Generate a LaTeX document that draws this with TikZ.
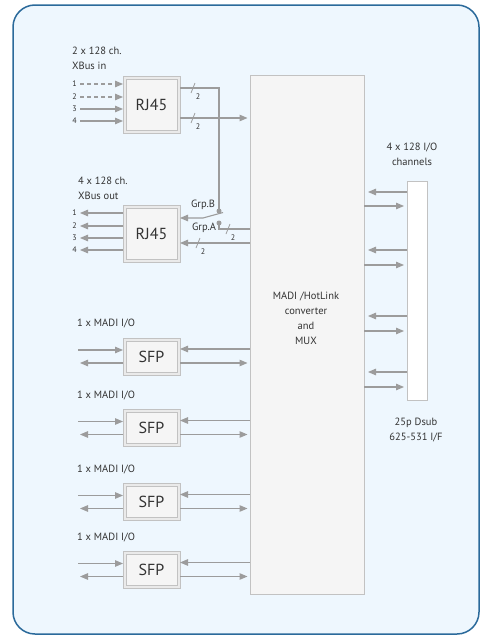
\documentclass[tikz,border=0pt]{standalone}
\usepackage{fontspec}
\setmainfont{PT Sans}
\usetikzlibrary{arrows.meta,calc}
\definecolor{bgblue}{HTML}{EEF7FE}
\definecolor{frameblue}{HTML}{2B6A9B}
\definecolor{linegray}{HTML}{9C9C9C}
\definecolor{boxgray}{HTML}{C2C2C2}
\definecolor{boxfill}{HTML}{F5F5F5}
\definecolor{rimfill}{HTML}{EAEAEA}
\definecolor{txt}{HTML}{333333}
\begin{document}
\begin{tikzpicture}[x=1pt,y=-1pt,
  conn/.style={draw=linegray, line width=1.1pt},
  arr/.style={conn, -{Triangle[length=8pt,width=6.5pt]}},
  dashedarr/.style={arr, dash pattern=on 4pt off 3pt},
  connbox/.style={draw=boxgray, fill=rimfill, line width=0.8pt, minimum width=57pt,
    inner sep=0pt, outer sep=0pt, font=\fontsize{16}{18}\selectfont, text=txt,
    path picture={\draw[draw=boxgray, fill=boxfill, line width=0.8pt]
      ([shift={(3pt,3pt)}]path picture bounding box.south west) rectangle
      ([shift={(-3pt,-3pt)}]path picture bounding box.north east);}},
  mainbox/.style={draw=boxgray, fill=boxfill, line width=1pt, inner sep=0pt, outer sep=0pt},
  dsubbox/.style={draw=boxgray, fill=white, line width=1pt, inner sep=0pt, outer sep=0pt},
  lbl/.style={font=\fontsize{10.5}{15}\selectfont, text=txt, inner sep=0pt},
  small/.style={font=\fontsize{8}{9}\selectfont, text=txt, inner sep=0pt},
  dot/.style={circle, fill=linegray, inner sep=0pt, minimum size=5pt},
  bus/.pic={\draw[draw=linegray, line width=0.8pt] (-2,5) -- (2,-5);
            \node[small] (-n) at (5,9) {2};}
]
\useasboundingbox (0,0) rectangle (481,637);
\fill[white] (0,0) rectangle (481,637);
\draw[frameblue, fill=bgblue, line width=1.5pt, rounded corners=22pt] (13,5) rectangle (479,634);

% main converter
\node[mainbox, minimum width=114pt, minimum height=519pt] (main) at (307,334.5) {};
\node[lbl, align=center] (mainlbl) at (306,318.5) {MADI /HotLink\\converter\\and\\MUX};

% Dsub
\node[dsubbox, minimum width=20pt, minimum height=219pt] (dsub) at (417,290.5) {};
\node[lbl, align=center] (iolbl) at (412,154) {4 x 128 I/O\\channels};
\node[lbl, align=center] (dsublbl) at (416,430) {25p Dsub\\625-531 I/F};
\foreach \ya/\yb [count=\i] in {192/206, 250/265, 316/331, 372/387} {
  \coordinate (da\i) at (368,\ya);
  \coordinate (db\i) at (404,\yb);
  \draw[arr] (dsub.west |- da\i) -- (da\i);
  \draw[arr] (main.east |- db\i) -- (db\i);
}

% XBus in
\node[lbl, anchor=west, align=left] (xinlbl) at (72,58) {2 x 128 ch.\\XBus in};
\node[connbox, minimum height=57pt] (rjin) at (151.5,104.5) {RJ45};
\foreach \y [count=\i] in {84,97,109,121} {
  \node[small, anchor=east] (inn\i) at (77,\y) {\i};
  \coordinate (ia\i) at (80,\y);
}
\draw[dashedarr] (ia1) -- (ia1 -| rjin.west);
\draw[dashedarr] (ia2) -- (ia2 -| rjin.west);
\draw[arr] (ia3) -- (ia3 -| rjin.west);
\draw[arr] (ia4) -- (ia4 -| rjin.west);

\coordinate (ob1) at (0,88);
\coordinate (ob2) at (247.5,118);
\node[dot] (grpb) at (219,211) {};
\draw[conn] (rjin.east |- ob1) -- (grpb.center |- ob1) -- (grpb.center);
\draw[arr] (rjin.east |- ob2) -- (ob2);
\pic at (193,88) {bus};
\pic at (193,118) {bus};

% XBus out
\node[lbl, anchor=west, align=left] (xoutlbl) at (78,188.5) {4 x 128 ch.\\XBus out};
\node[connbox, minimum height=57pt] (rjout) at (151.5,233.5) {RJ45};
\foreach \y [count=\i] in {213,226,238,250} {
  \node[small, anchor=east] (outn\i) at (77,\y) {\i};
  \coordinate (oa\i) at (80,\y);
  \draw[arr] (rjout.west |- oa\i) -- (oa\i);
}
\node[lbl] (grpblbl) at (203,205) {Grp.B};
\node[lbl] (grpalbl) at (204,228) {Grp.A};
\node[dot] (grpa) at (219,223) {};
\coordinate (lever) at (223,212.5);
\coordinate (knee) at (203,218);
\coordinate (swin) at (0,218);
\draw[arr] (lever) -- (knee) -- (rjout.east |- swin);
\coordinate (ga) at (0,229);
\draw[conn] (grpa.center) -- (grpa.center |- ga) -- (main.west |- ga);
\pic at (228,229) {bus};
\coordinate (gb) at (0,243);
\draw[arr] (main.west |- gb) -- (rjout.east |- gb);
\pic at (198,243) {bus};

% SFP blocks
\foreach \k/\yc in {1/356.5,2/428,3/502,4/570} {
  \node[connbox, minimum height=37pt] (sfp\k) at (151.5,\yc) {SFP};
  \node[lbl, anchor=west] (sfpl\k) at (77,\yc-33) {1 x MADI I/O};
  \coordinate (sa\k) at (78,\yc-6.5);
  \coordinate (sb\k) at (80,\yc+6.5);
  \draw[arr] (sa\k) -- (sa\k -| sfp\k.west);
  \draw[arr] (sfp\k.west |- sb\k) -- (sb\k);
  \coordinate (sc\k) at (0,\yc-7.5);
  \coordinate (sd\k) at (247.5,\yc+6.5);
  \draw[arr] (main.west |- sc\k) -- (sfp\k.east |- sc\k);
  \draw[arr] (sfp\k.east |- sd\k) -- (sd\k);
}
\end{tikzpicture}
\end{document}
